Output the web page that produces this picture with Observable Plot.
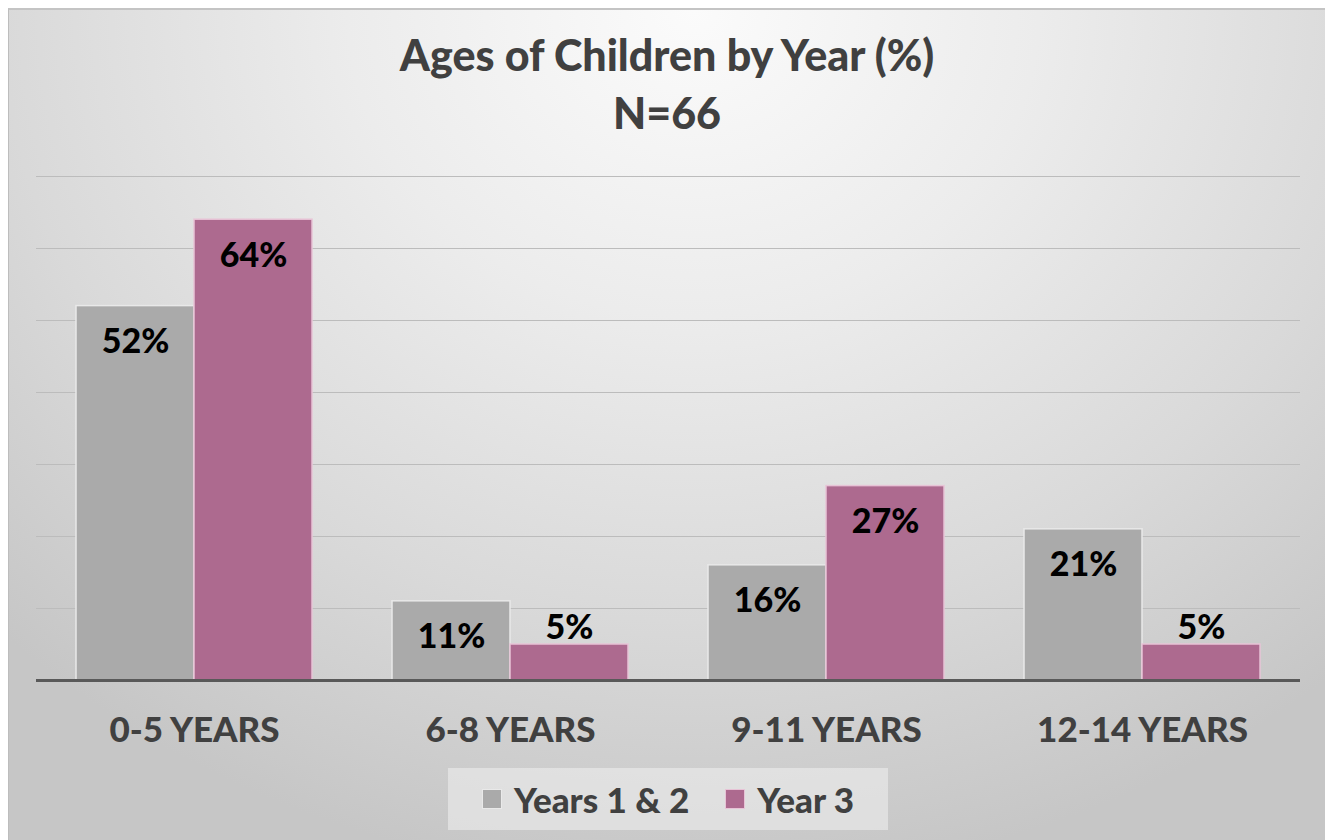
<!DOCTYPE html>
<html>
<head>
<meta charset="utf-8">
<script src="https://cdn.jsdelivr.net/npm/d3@7"></script>
<script src="https://cdn.jsdelivr.net/npm/@observablehq/plot@0.6"></script>
<style>
  html, body { margin: 0; padding: 0; background: #ffffff; }
  body { width: 1325px; height: 840px; overflow: hidden; position: relative; font-family: Lato, "Open Sans", sans-serif; }
  #frame {
    position: absolute; left: 8px; top: 8px; width: 1316px; height: 832px;
    border-left: 1px solid #bdbdbd; border-top: 2px solid #c4c4c4; border-right: 1px solid #c9c9c9;
    background: radial-gradient(ellipse 75% 105% at 52% 0%, #fbfbfb 0%, #ececec 35%, #d9d9d9 70%, #c6c6c6 100%);
  }
  #title {
    position: absolute; left: 0; top: 16px; width: 1316px; text-align: center;
    color: #404040; font-weight: 900; font-size: 43px; line-height: 58px;
  }
  #chart { position: absolute; left: 0; top: 130px; }
  #legend {
    position: absolute; left: 439px; top: 758px; width: 440px; height: 62px;
    background: rgba(240,240,240,0.55);
    display: flex; align-items: center; justify-content: center; gap: 36px;
    color: #404040; font-weight: 900; font-size: 35px;
  }
  .item { display: flex; align-items: center; gap: 12px; }
  .sw { width: 20px; height: 20px; box-sizing: border-box; }
</style>
</head>
<body>
<div id="frame">
  <div id="title">Ages of Children by Year (%)<br>N=66</div>
  <div id="chart"></div>
  <div id="legend"></div>
</div>
<script>
// Age groups and the share of children in each, per reporting period
const categories = ["0-5 YEARS", "6-8 YEARS", "9-11 YEARS", "12-14 YEARS"];
const seriesNames = ["Years 1 & 2", "Year 3"];
const years12 = [52, 11, 16, 21];
const year3 = [64, 5, 27, 5];
const yTicks = [10, 20, 30, 40, 50, 60, 70];

const fills = ["#aaaaaa", "#ad6a8f"];
const strokes = ["#e9e9e9", "#e7c3d6"];

const data = [];
categories.forEach((c, i) => {
  data.push({category: c, series: seriesNames[0], value: years12[i]});
  data.push({category: c, series: seriesNames[1], value: year3[i]});
});

const fontFamily = "Lato, 'Open Sans', sans-serif";

const chart = Plot.plot({
  width: 1316,
  height: 630,
  marginLeft: 27,
  marginRight: 25,
  marginTop: 36,
  marginBottom: 90,
  style: {background: "transparent", fontFamily, overflow: "visible"},
  fx: {domain: categories, padding: 0, label: null},
  x: {domain: seriesNames, paddingInner: 0, paddingOuter: 0.328, axis: null},
  y: {domain: [0, 70], axis: null},
  marks: [
    Plot.ruleY(yTicks, {stroke: "#bcbcbc", strokeWidth: 1}),
    Plot.barY(data.filter(d => d.series === seriesNames[0]), {
      fx: "category", x: "series", y: "value", fill: fills[0], stroke: strokes[0], strokeWidth: 1.5
    }),
    Plot.barY(data.filter(d => d.series === seriesNames[1]), {
      fx: "category", x: "series", y: "value", fill: fills[1], stroke: strokes[1], strokeWidth: 1.5
    }),
    Plot.ruleY([0], {stroke: "#595959", strokeWidth: 3}),
    // labels sit inside the top of the bar, or just above it when the bar is short
    Plot.text(data.filter(d => d.value >= 10), {
      fx: "category", x: "series", y: "value", text: d => d.value + "%",
      dy: 36, fontSize: 34, fontWeight: 900, fill: "#000000"
    }),
    Plot.text(data.filter(d => d.value < 10), {
      fx: "category", x: "series", y: "value", text: d => d.value + "%",
      dy: -16, fontSize: 34, fontWeight: 900, fill: "#000000"
    }),
    Plot.axisFx({
      anchor: "bottom", tickSize: 0, tickPadding: 37, label: null,
      fontSize: 35, fontWeight: 900, fill: "#404040"
    })
  ]
});
document.getElementById("chart").appendChild(chart);

// legend
const legend = document.getElementById("legend");
seriesNames.forEach((name, i) => {
  const item = document.createElement("div");
  item.className = "item";
  const sw = document.createElement("div");
  sw.className = "sw";
  sw.style.background = fills[i];
  sw.style.border = "1px solid " + strokes[i];
  const label = document.createElement("span");
  label.textContent = name;
  item.appendChild(sw);
  item.appendChild(label);
  legend.appendChild(item);
});
</script>
</body>
</html>
